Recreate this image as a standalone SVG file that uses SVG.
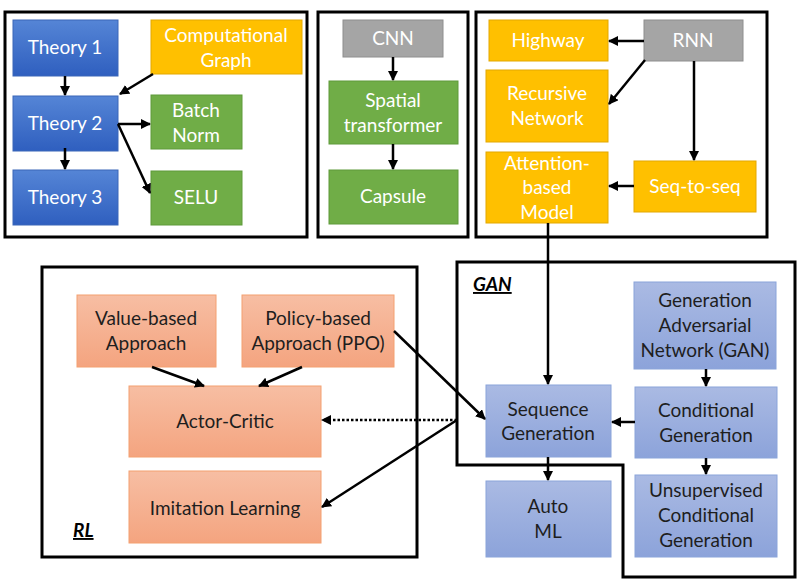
<svg xmlns="http://www.w3.org/2000/svg" width="801" height="585" viewBox="0 0 801 585">
<defs>
<linearGradient id="gBlue" x1="0" y1="0" x2="0" y2="1"><stop offset="0" stop-color="#5585D6"/><stop offset="1" stop-color="#2F5FBF"/></linearGradient>
<linearGradient id="gSal" x1="0" y1="0" x2="0" y2="1"><stop offset="0" stop-color="#F7BEA3"/><stop offset="1" stop-color="#F4A47F"/></linearGradient>
<linearGradient id="gLb" x1="0" y1="0" x2="0" y2="1"><stop offset="0" stop-color="#AABAE3"/><stop offset="1" stop-color="#8CA3DA"/></linearGradient>
<marker id="ah" viewBox="0 0 10 10" refX="9" refY="5" markerWidth="4" markerHeight="4" orient="auto" markerUnits="strokeWidth"><path d="M0,0 L10,5 L0,10 z" fill="#000"/></marker>
</defs>
<style>
text{font-family:Lato,"Open Sans","Liberation Sans",sans-serif;font-size:19px;text-anchor:middle}
.w{fill:#fff}
.d{fill:#1e1e1e}
.frame{fill:none;stroke:#000;stroke-width:3}
.blue{fill:url(#gBlue);stroke:#3A66B8;stroke-width:1}
.org{fill:#FFC000;stroke:#E3A800;stroke-width:1}
.grn{fill:#70AD47;stroke:#5E9A3A;stroke-width:1}
.gry{fill:#A5A5A5;stroke:#8E8E8E;stroke-width:1}
.sal{fill:url(#gSal);stroke:#F4A070;stroke-width:1}
.lb{fill:url(#gLb);stroke:#8AA4DA;stroke-width:1}
.c{fill:none;stroke:#000;stroke-width:2.5;marker-end:url(#ah)}
.dot{stroke-dasharray:2.5 2}
.lab{font-weight:bold;font-style:italic;text-anchor:start;text-decoration:underline;fill:#000}
</style>
<rect width="801" height="585" fill="#fff"/>
<g id="frames">
<rect class="frame" x="5" y="12" width="302" height="225"/>
<rect class="frame" x="318" y="12" width="150" height="225"/>
<rect class="frame" x="476" y="12" width="291" height="225"/>
<rect class="frame" x="42" y="267" width="375" height="290"/>
<path class="frame" d="M457,262 H795 V577 H623 V465 H457 Z"/>
<text class="lab" x="73" y="537">RL</text>
<text class="lab" x="473" y="291">GAN</text>
</g>
<g id="theory1"><rect class="blue" x="13" y="20" width="105" height="56"/><text class="w" x="65" y="54">Theory 1</text></g>
<g id="theory2"><rect class="blue" x="13" y="96" width="105" height="55"/><text class="w" x="65" y="130">Theory 2</text></g>
<g id="theory3"><rect class="blue" x="13" y="170" width="105" height="55"/><text class="w" x="65" y="204">Theory 3</text></g>
<g id="compgraph"><rect class="org" x="151" y="20" width="151" height="54"/><text class="w" x="226" y="42">Computational</text><text class="w" x="226" y="67">Graph</text></g>
<g id="batchnorm"><rect class="grn" x="151" y="95" width="91" height="54"/><text class="w" x="196" y="117">Batch</text><text class="w" x="196" y="142">Norm</text></g>
<g id="selu"><rect class="grn" x="151" y="171" width="91" height="54"/><text class="w" x="196" y="204">SELU</text></g>
<g id="cnn"><rect class="gry" x="343" y="20" width="100" height="37"/><text class="w" x="393" y="45">CNN</text></g>
<g id="spatial"><rect class="grn" x="329" y="81" width="129" height="63"/><text class="w" x="393" y="107">Spatial</text><text class="w" x="393" y="132">transformer</text></g>
<g id="capsule"><rect class="grn" x="329" y="170" width="129" height="54"/><text class="w" x="393" y="203">Capsule</text></g>
<g id="highway"><rect class="org" x="489" y="20" width="119" height="41"/><text class="w" x="548" y="47">Highway</text></g>
<g id="rnn"><rect class="gry" x="644" y="20" width="99" height="41"/><text class="w" x="693" y="47">RNN</text></g>
<g id="recursive"><rect class="org" x="486" y="70" width="122" height="72"/><text class="w" x="547" y="100">Recursive</text><text class="w" x="547" y="125">Network</text></g>
<g id="attention"><rect class="org" x="486" y="152" width="122" height="71"/><text class="w" x="547" y="170">Attention-</text><text class="w" x="547" y="194">based</text><text class="w" x="547" y="219">Model</text></g>
<g id="seq2seq"><rect class="org" x="634" y="161" width="122" height="51"/><text class="w" x="695" y="193">Seq-to-seq</text></g>
<g id="valuebased"><rect class="sal" x="77" y="295" width="139" height="72"/><text class="d" x="146" y="325">Value-based</text><text class="d" x="146" y="350">Approach</text></g>
<g id="policybased"><rect class="sal" x="242" y="295" width="152" height="72"/><text class="d" x="318" y="325">Policy-based</text><text class="d" x="318" y="350">Approach (PPO)</text></g>
<g id="actorcritic"><rect class="sal" x="129" y="386" width="192" height="71"/><text class="d" x="225" y="428">Actor-Critic</text></g>
<g id="imitation"><rect class="sal" x="129" y="471" width="192" height="72"/><text class="d" x="225" y="515">Imitation Learning</text></g>
<g id="gan"><rect class="lb" x="634" y="282" width="142" height="87"/><text class="d" x="705" y="307">Generation</text><text class="d" x="705" y="332">Adversarial</text><text class="d" x="705" y="357">Network (GAN)</text></g>
<g id="conditional"><rect class="lb" x="635" y="387" width="142" height="71"/><text class="d" x="706" y="417">Conditional</text><text class="d" x="706" y="442">Generation</text></g>
<g id="unsupervised"><rect class="lb" x="635" y="475" width="142" height="82"/><text class="d" x="706" y="497">Unsupervised</text><text class="d" x="706" y="522">Conditional</text><text class="d" x="706" y="547">Generation</text></g>
<g id="seqgen"><rect class="lb" x="486" y="385" width="125" height="72"/><text class="d" x="548" y="416">Sequence</text><text class="d" x="548" y="440">Generation</text></g>
<g id="automl"><rect class="lb" x="486" y="481" width="125" height="76"/><text class="d" x="548" y="513">Auto</text><text class="d" x="548" y="538">ML</text></g>
<g id="connectors">
<line class="c" x1="65" y1="76" x2="65" y2="95"/>
<line class="c" x1="65" y1="148" x2="65" y2="169"/>
<line class="c" x1="153" y1="74" x2="120" y2="94"/>
<line class="c" x1="118" y1="124" x2="150" y2="124"/>
<line class="c" x1="118" y1="124" x2="150" y2="193"/>
<line class="c" x1="393" y1="57" x2="393" y2="80"/>
<line class="c" x1="393" y1="144" x2="393" y2="169"/>
<line class="c" x1="644" y1="41" x2="609" y2="41"/>
<line class="c" x1="645" y1="60" x2="609" y2="104"/>
<line class="c" x1="694" y1="61" x2="694" y2="160"/>
<line class="c" x1="634" y1="186" x2="609" y2="186"/>
<line class="c" x1="548" y1="223" x2="548" y2="384"/>
<line class="c" x1="152" y1="367" x2="204" y2="386"/>
<line class="c" x1="302" y1="367" x2="259" y2="386"/>
<line class="c" x1="394" y1="331" x2="485" y2="419"/>
<line class="c dot" x1="457" y1="420" x2="322" y2="420"/>
<line class="c" x1="457" y1="420" x2="322" y2="507"/>
<line class="c" x1="706" y1="369" x2="706" y2="386"/>
<line class="c" x1="706" y1="458" x2="706" y2="474"/>
<line class="c" x1="635" y1="422" x2="612" y2="422"/>
<line class="c" x1="548" y1="457" x2="548" y2="480"/>
</g>
</svg>
